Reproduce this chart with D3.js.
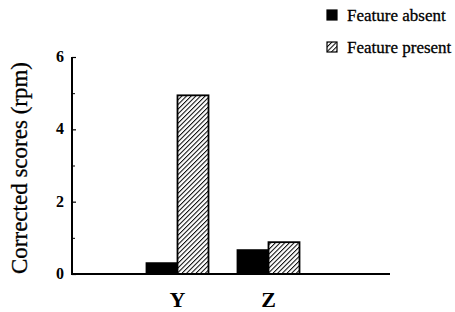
<!DOCTYPE html>
<html><head><meta charset="utf-8">
<script src="https://cdn.jsdelivr.net/npm/d3@7"></script>
<style>body{margin:0;background:#fff}svg{display:block}</style>
</head><body>
<script>
const categories = ["Y", "Z"];
const series = ["Feature absent", "Feature present"];
const absentValues = [0.30, 0.66];
const presentValues = [4.94, 0.88];
const yTicks = [0, 2, 4, 6];
const yMinorTicks = [1, 3, 5];

const W = 455, H = 312;
const svg = d3.select("body").append("svg").attr("width", W).attr("height", H);
const defs = svg.append("defs");
const pat = defs.append("pattern").attr("id", "hatch").attr("patternUnits", "userSpaceOnUse")
  .attr("width", 3.3).attr("height", 3.3).attr("patternTransform", "rotate(45)");
pat.append("rect").attr("width", 3.3).attr("height", 3.3).attr("fill", "#fff");
pat.append("line").attr("x1", 0).attr("y1", 0).attr("x2", 0).attr("y2", 3.3)
  .attr("stroke", "#000").attr("stroke-width", 2);

const axisLeft = 72, axisRight = 390, y0 = 274, yTop = 57;
const y = d3.scaleLinear().domain([0, 6]).range([y0, yTop]);
const x = d3.scaleBand().domain(categories).range([132, 314]);
const x1 = d3.scaleBand().domain(series).range([0, 62]);
const fills = {"Feature absent": "#000", "Feature present": "url(#hatch)"};

const data = categories.map((c, i) => ({cat: c, vals: [
  {s: series[0], v: absentValues[i]}, {s: series[1], v: presentValues[i]}]}));

const g = svg.append("g");
g.selectAll("g.cat").data(data).join("g").attr("class", "cat")
  .attr("transform", d => `translate(${x(d.cat) + x.bandwidth()/2 - 31},0)`)
  .selectAll("rect").data(d => d.vals).join("rect")
  .attr("x", d => x1(d.s)).attr("width", x1.bandwidth())
  .attr("y", d => y(d.v)).attr("height", d => y0 - y(d.v))
  .attr("fill", d => fills[d.s]).attr("stroke", "#000").attr("stroke-width", 1.8);

// axes
const ya = svg.append("g").attr("transform", `translate(${axisLeft},0)`)
  .call(d3.axisRight(y).tickValues(yTicks).tickSize(4).tickFormat(""));
ya.select(".domain").remove();
ya.selectAll("line").attr("stroke", "#000").attr("stroke-width", 1.2);
svg.append("g").attr("transform", `translate(${axisLeft},0)`)
  .call(d3.axisRight(y).tickValues(yMinorTicks).tickSize(3).tickFormat(""))
  .call(s => s.select(".domain").remove())
  .selectAll("line").attr("stroke", "#000");
svg.append("line").attr("x1", axisLeft).attr("x2", axisLeft).attr("y1", yTop).attr("y2", y0)
  .attr("stroke", "#000").attr("stroke-width", 2);
svg.append("line").attr("x1", axisLeft - 1).attr("x2", axisRight).attr("y1", y0).attr("y2", y0)
  .attr("stroke", "#000").attr("stroke-width", 2);

svg.selectAll("text.yt").data(yTicks).join("text").attr("class", "yt")
  .attr("x", 64).attr("y", d => y(d) + 5).attr("text-anchor", "end")
  .attr("font-family", "Liberation Serif").attr("font-weight", "bold").attr("font-size", 16)
  .text(d => d);

svg.selectAll("text.xt").data(categories).join("text").attr("class", "xt")
  .attr("x", d => x(d) + x.bandwidth()/2).attr("y", 307).attr("text-anchor", "middle")
  .attr("font-family", "Liberation Serif").attr("font-weight", "bold").attr("font-size", 22)
  .text(d => d);

svg.append("text").attr("transform", "translate(27,168) rotate(-90)")
  .attr("text-anchor", "middle").attr("font-family", "Liberation Serif").attr("font-size", 23)
  .attr("stroke", "#000").attr("stroke-width", 0.3)
  .text("Corrected scores (rpm)");

const leg = svg.append("g");
series.forEach((s, i) => {
  const ly = 10 + i * 32;
  leg.append("rect").attr("x", 327).attr("y", ly).attr("width", 10).attr("height", 10)
    .attr("fill", fills[s]).attr("stroke", "#000").attr("stroke-width", 1.2);
  leg.append("text").attr("x", 347).attr("y", ly + 11)
    .attr("font-family", "Liberation Serif").attr("font-size", 17)
    .attr("stroke", "#000").attr("stroke-width", 0.3).text(s);
});
</script>
</body></html>
